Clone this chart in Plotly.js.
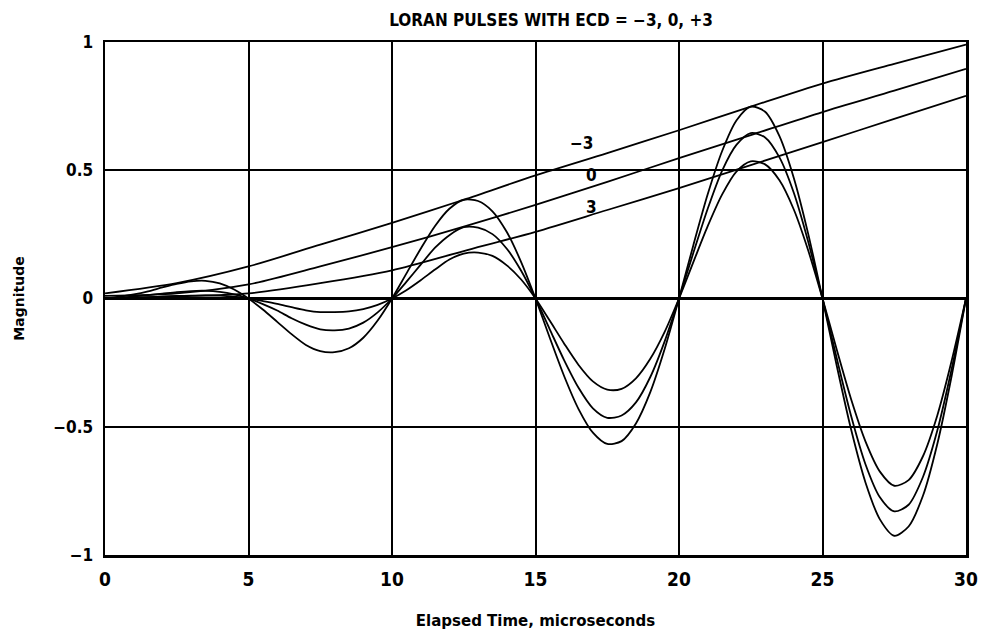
<!DOCTYPE html>
<html>
<head>
<meta charset="utf-8">
<script src="https://cdn.plot.ly/plotly-3.0.1.min.js"></script>
<style>
  html, body { margin: 0; padding: 0; background: #ffffff; }
  #chart { width: 984px; height: 638px; }
</style>
</head>
<body>
<div id="chart"></div>
<script>
// Elapsed time (microseconds) sample points for the pulses
const timePulse = [0,0.5,1,1.5,2,2.5,3,3.5,4,4.5,5,5.5,6,6.5,7,7.5,8,8.5,9,9.5,10,10.5,11,11.5,12,12.5,13,13.5,14,14.5,15,15.5,16,16.5,17,17.5,18,18.5,19,19.5,20,20.5,21,21.5,22,22.5,23,23.5,24,24.5,25,25.5,26,26.5,27,27.5,28,28.5,29,29.5,30];

// Pulse magnitude, ECD = -3
const pulseM3 = [0,0.007,0.016,0.028,0.043,0.057,0.067,0.069,0.059,0.035,0,-0.043,-0.091,-0.139,-0.181,-0.205,-0.209,-0.194,-0.153,-0.086,0,0.097,0.194,0.283,0.350,0.385,0.380,0.340,0.259,0.142,0,-0.154,-0.303,-0.431,-0.523,-0.567,-0.556,-0.487,-0.365,-0.197,0,0.208,0.406,0.574,0.694,0.748,0.728,0.633,0.470,0.253,0,-0.264,-0.512,-0.718,-0.861,-0.925,-0.889,-0.769,-0.567,-0.302,0];

// Pulse magnitude, ECD = 0
const pulse0 = [0,0.003,0.008,0.013,0.019,0.025,0.029,0.030,0.026,0.016,0,-0.022,-0.047,-0.077,-0.102,-0.120,-0.124,-0.117,-0.094,-0.054,0,0.065,0.132,0.198,0.247,0.278,0.276,0.251,0.194,0.108,0,-0.121,-0.241,-0.348,-0.428,-0.465,-0.456,-0.405,-0.306,-0.167,0,0.178,0.350,0.498,0.599,0.645,0.628,0.550,0.412,0.222,0,-0.235,-0.459,-0.647,-0.775,-0.830,-0.804,-0.696,-0.515,-0.275,0];

// Pulse magnitude, ECD = +3
const pulseP3 = [0,0.001,0.002,0.005,0.008,0.010,0.011,0.012,0.011,0.007,0,-0.010,-0.021,-0.034,-0.046,-0.053,-0.053,-0.050,-0.041,-0.025,0,0.032,0.071,0.113,0.152,0.175,0.179,0.166,0.129,0.074,0,-0.087,-0.176,-0.259,-0.323,-0.355,-0.352,-0.311,-0.235,-0.130,0,0.142,0.282,0.405,0.495,0.535,0.523,0.461,0.347,0.188,0,-0.201,-0.394,-0.558,-0.675,-0.730,-0.708,-0.615,-0.456,-0.243,0];

// Envelope sample points
const timeEnv = [0,2.5,5,7.5,10,12.5,15,17.5,20,22.5,25,27.5,30];
const envM3 = [0.02,0.06,0.125,0.21,0.295,0.385,0.48,0.567,0.656,0.748,0.838,0.915,0.99];
const env0  = [0.01,0.02,0.055,0.125,0.2,0.28,0.365,0.455,0.547,0.637,0.727,0.81,0.895];
const envP3 = [0.0,0.008,0.02,0.06,0.11,0.185,0.26,0.345,0.43,0.52,0.61,0.70,0.79];

// Envelope labels
const labelText = ["\u22123", "0", "3"];
const labelX = [16.6, 16.95, 16.95];
const labelY = [0.605, 0.48, 0.355];

const xTicks = [0,5,10,15,20,25,30];
const yTicks = [-1,-0.5,0,0.5,1];
const yTickText = ["\u22121","\u22120.5","0","0.5","1"];

const lineStyle = {color: "#000000", width: 1.8, shape: "spline", smoothing: 0.8};
const traces = [];
[[timePulse, pulseM3], [timePulse, pulse0], [timePulse, pulseP3],
 [timeEnv, envM3], [timeEnv, env0], [timeEnv, envP3]].forEach(function (p) {
  traces.push({x: p[0], y: p[1], type: "scatter", mode: "lines", line: lineStyle, hoverinfo: "skip", showlegend: false});
});

const bold = "DejaVu Sans Condensed, DejaVu Sans, sans-serif";

const annotations = labelText.map(function (t, i) {
  return {x: labelX[i], y: labelY[i], xref: "x", yref: "y", text: t, showarrow: false,
          font: {family: bold, size: 17, color: "#000", weight: "bold"}};
});

const layout = {
  width: 984, height: 638,
  paper_bgcolor: "#ffffff", plot_bgcolor: "#ffffff",
  margin: {l: 105, r: 18, t: 42, b: 83},
  showlegend: false,
  title: {text: "LORAN PULSES WITH ECD = \u22123, 0, +3", x: 0.56, xanchor: "center", y: 0.968, yanchor: "middle",
          font: {family: "DejaVu Sans Condensed, sans-serif", size: 17, color: "#000", weight: "bold"}},
  xaxis: {
    range: [0, 30], tickvals: xTicks, ticks: "", showgrid: true, gridcolor: "#000", gridwidth: 2,
    zeroline: false, showline: true, linecolor: "#000", linewidth: 2.5, mirror: true,
    tickfont: {family: bold, size: 19, color: "#000", weight: "bold"}, ticklabelstandoff: 6,
    title: {text: "Elapsed Time, microseconds", standoff: 26,
            font: {family: "DejaVu Sans, sans-serif", size: 15, color: "#000", weight: "bold"}}
  },
  yaxis: {
    range: [-1, 1], tickvals: yTicks, ticktext: yTickText, ticks: "", showgrid: true, gridcolor: "#000", gridwidth: 2,
    zeroline: true, zerolinecolor: "#000", zerolinewidth: 2.5,
    showline: true, linecolor: "#000", linewidth: 2.5, mirror: true,
    tickfont: {family: bold, size: 17, color: "#000", weight: "bold"}, ticklabelstandoff: 6,
    title: {text: "Magnitude", standoff: 26,
            font: {family: "DejaVu Sans, sans-serif", size: 14, color: "#000", weight: "bold"}}
  },
  annotations: annotations
};

Plotly.newPlot("chart", traces, layout, {staticPlot: true, displayModeBar: false});
</script>
</body>
</html>
